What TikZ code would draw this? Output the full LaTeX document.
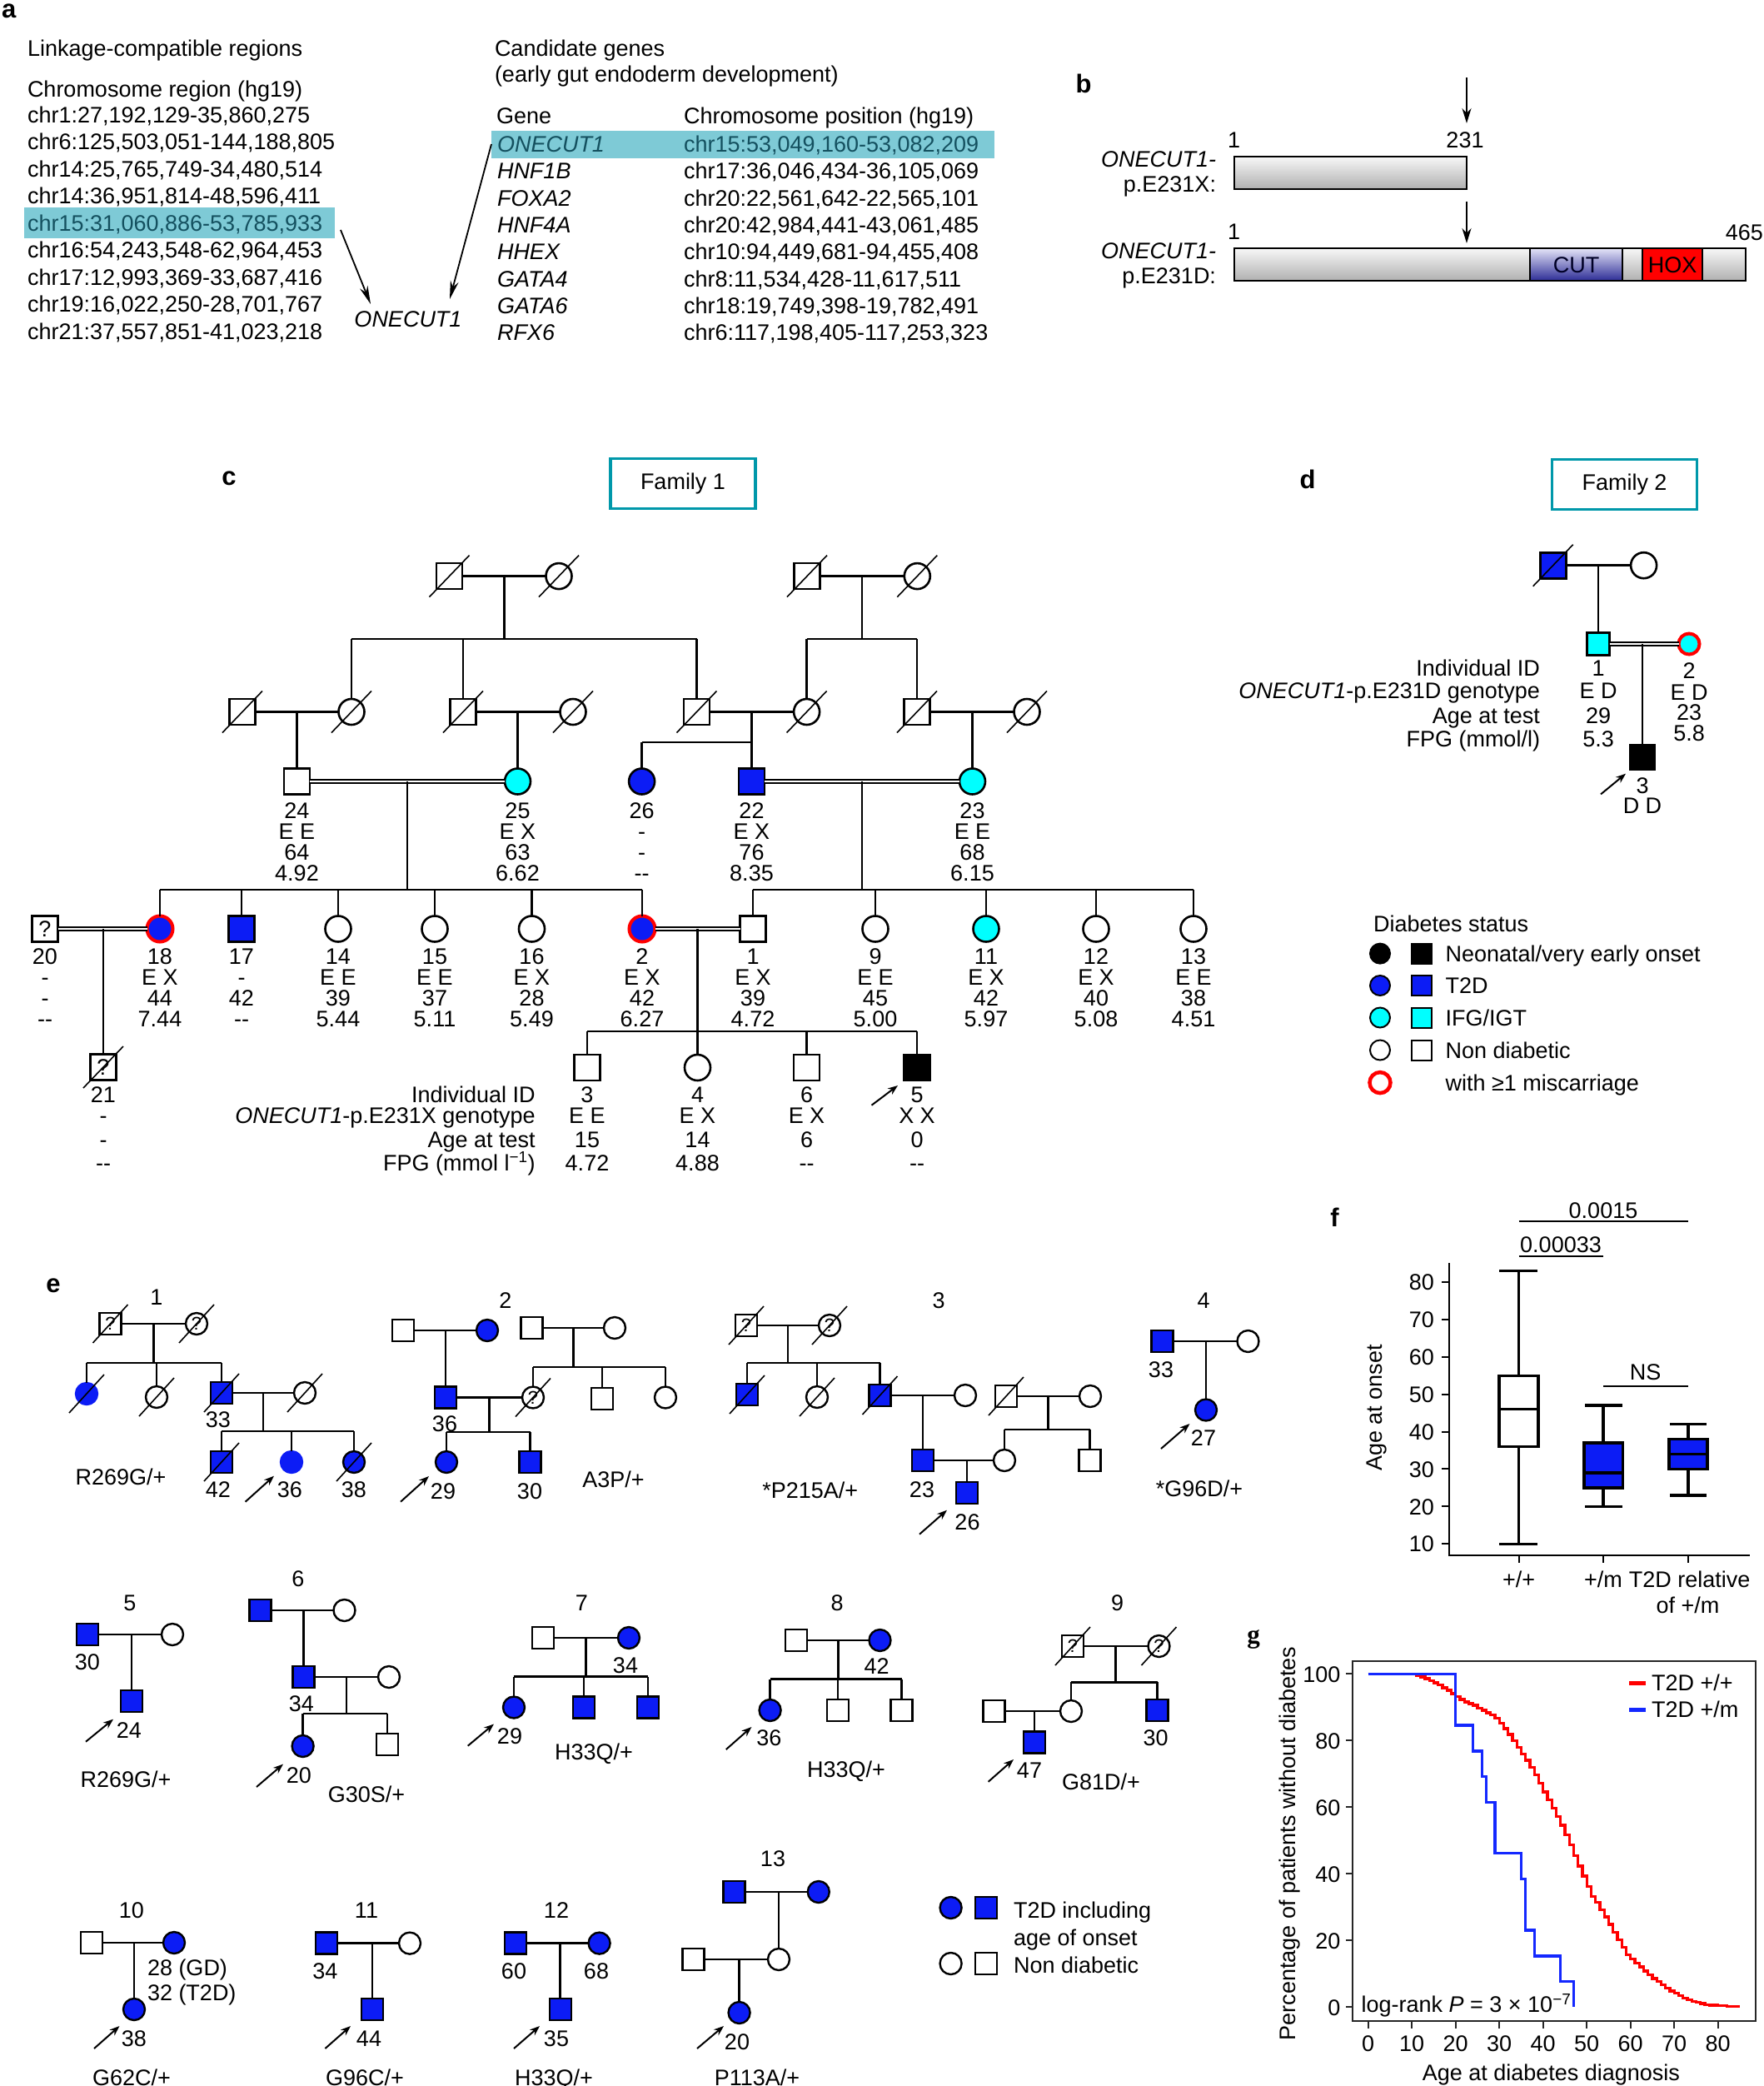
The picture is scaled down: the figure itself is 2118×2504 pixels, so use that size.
\documentclass[tikz,border=0pt]{standalone}
\usepackage{fontspec}
\setmainfont{Liberation Sans}
\newfontfamily\serifbf{Liberation Serif}
\usetikzlibrary{arrows.meta,calc}
\definecolor{pblue}{RGB}{12,28,245}
\definecolor{pcyan}{RGB}{0,255,255}
\definecolor{pred}{RGB}{255,0,0}
\definecolor{hl}{RGB}{126,202,214}
\definecolor{hltext}{RGB}{20,80,95}
\definecolor{famc}{RGB}{0,152,170}
\definecolor{gblue}{RGB}{20,40,255}
\definecolor{cutt}{RGB}{228,228,248}
\definecolor{cutb}{RGB}{45,45,150}
\newcommand\fs{\fontsize{27}{32}\selectfont}
\newcommand\fqe{\fontsize{22}{24}\selectfont}
\newcommand\fbl{\fontsize{31}{36}\selectfont\bfseries}
\newcommand\pdec[1]{\draw[slash] (#1) ++(-24,25) -- ++(48,-50);}
\newcommand\pdecs[1]{\draw[slash] (#1) ++(-21,23) -- ++(42,-46);}
\newcommand\pdrop[2]{\draw[pl] (#1.north) -- (#1 |- #2);}
\newcommand\pinfo[8]{%
  \node[anchor=base] (#1a) at (#2,#3) {#5};
  \node[anchor=base] (#1b) at (#2,#3+#4) {#6};
  \node[anchor=base] (#1c) at (#2,#3+2*#4) {#7};
  \node[anchor=base] (#1d) at (#2,#3+3*#4) {#8};}
\newcommand\pinfoV[6]{%
  \node[anchor=base] (#1a) at (#2,1323) {#3};
  \node[anchor=base] (#1b) at (#2,1348) {#4};
  \node[anchor=base] (#1c) at (#2,1377) {#5};
  \node[anchor=base] (#1d) at (#2,1405) {#6};}
\newcommand\ddash{-{}-}
\begin{document}
\begin{tikzpicture}[x=1pt,y=-1pt,
  every node/.style={inner sep=0pt,outer sep=0pt,font=\fs},
  pl/.style={line width=2.6pt},
  sq/.style={draw,rectangle,line width=2.6pt,minimum size=31pt},
  ci/.style={draw,circle,line width=2.6pt,minimum size=31pt},
  esq/.style={draw,rectangle,line width=2.4pt,minimum size=26pt},
  eci/.style={draw,circle,line width=2.4pt,minimum size=26pt},
  slash/.style={line width=1.6pt},
  ring/.style={draw=pred,line width=4pt},
  parr/.style={line width=2pt,-{Stealth[length=12pt,width=9pt]}},
  aarr/.style={line width=1.8pt,-{Stealth[length=22pt,width=10pt]}},
  barr/.style={line width=1.8pt,-{Stealth[length=18pt,width=11pt]}},
  dbl/.style={double,double distance=2.2pt,line width=2.2pt},
  fam/.style={draw=famc,line width=3.5pt,minimum width=174pt,minimum height=60pt},
  barg/.style={top color=gray!6,bottom color=gray!62},
  bx/.style={line width=3.4pt},
  fax/.style={line width=2pt},
  gax/.style={line width=2pt,black!85}]
\useasboundingbox (0,0) rectangle (2118,2504);
\fill[white] (0,0) rectangle (2118,2504);

%%%%%%%%%%%%%%%% panel a
\node[font=\fbl,anchor=base west] (la) at (2,21) {a};
\fill[hl] (29,249) rectangle (402,286);
\fill[hl] (590,157) rectangle (1194,190);
\node[anchor=base west] (ah1) at (33,67) {Linkage-compatible regions};
\node[anchor=base west] (ah2) at (33,116) {Chromosome region (hg19)};
\node[anchor=base west] (ar1) at (33,147) {chr1:27,192,129-35,860,275};
\node[anchor=base west] (ar2) at (33,179.5) {chr6:125,503,051-144,188,805};
\node[anchor=base west] (ar3) at (33,212) {chr14:25,765,749-34,480,514};
\node[anchor=base west] (ar4) at (33,244.5) {chr14:36,951,814-48,596,411};
\node[anchor=base west,text=hltext] (ar5) at (33,277) {chr15:31,060,886-53,785,933};
\node[anchor=base west] (ar6) at (33,309.5) {chr16:54,243,548-62,964,453};
\node[anchor=base west] (ar7) at (33,342) {chr17:12,993,369-33,687,416};
\node[anchor=base west] (ar8) at (33,374.5) {chr19:16,022,250-28,701,767};
\node[anchor=base west] (ar9) at (33,407) {chr21:37,557,851-41,023,218};
\node[anchor=base west] (ac1) at (594,67) {Candidate genes};
\node[anchor=base west] (ac2) at (594,98) {(early gut endoderm development)};
\node[anchor=base west] (ag0) at (596,148) {Gene};
\node[anchor=base west] (ap0) at (821,148) {Chromosome position (hg19)};
\node[anchor=base west,font=\fs\itshape,text=hltext] (ag1) at (597,182.5) {ONECUT1};
\node[anchor=base west,font=\fs\itshape] (ag2) at (597,214.8) {HNF1B};
\node[anchor=base west,font=\fs\itshape] (ag3) at (597,247) {FOXA2};
\node[anchor=base west,font=\fs\itshape] (ag4) at (597,279.4) {HNF4A};
\node[anchor=base west,font=\fs\itshape] (ag5) at (597,311.7) {HHEX};
\node[anchor=base west,font=\fs\itshape] (ag6) at (597,344) {GATA4};
\node[anchor=base west,font=\fs\itshape] (ag7) at (597,376.3) {GATA6};
\node[anchor=base west,font=\fs\itshape] (ag8) at (597,408.6) {RFX6};
\node[anchor=base west,text=hltext] (ap1) at (821,182.5) {chr15:53,049,160-53,082,209};
\node[anchor=base west] (ap2) at (821,214.8) {chr17:36,046,434-36,105,069};
\node[anchor=base west] (ap3) at (821,247) {chr20:22,561,642-22,565,101};
\node[anchor=base west] (ap4) at (821,279.4) {chr20:42,984,441-43,061,485};
\node[anchor=base west] (ap5) at (821,311.7) {chr10:94,449,681-94,455,408};
\node[anchor=base west] (ap6) at (821,344) {chr8:11,534,428-11,617,511};
\node[anchor=base west] (ap7) at (821,376.3) {chr18:19,749,398-19,782,491};
\node[anchor=base west] (ap8) at (821,408.6) {chr6:117,198,405-117,253,323};
\coordinate (aa1) at (409,276); \coordinate (aa2) at (445,365);
\coordinate (aa3) at (590,173); \coordinate (aa4) at (540,359);
\draw[aarr] (aa1) -- (aa2);
\draw[aarr] (aa3) -- (aa4);
\node[anchor=base,font=\fs\itshape] (aon) at (490,392.7) {ONECUT1};

%%%%%%%%%%%%%%%% panel b
\node[font=\fbl] (lb) at (1301,100) {b};
\coordinate (bA1) at (1761,93); \coordinate (bA2) at (1761,148);
\draw[barr] (bA1) -- (bA2);
\coordinate (bA3) at (1761,242); \coordinate (bA4) at (1761,292);
\draw[barr] (bA3) -- (bA4);
\node[anchor=base] (bn1) at (1481.6,177) {1};
\node[anchor=base] (bn231) at (1759,177) {231};
\node[anchor=base east,font=\fs\itshape] (bl1) at (1460,200) {ONECUT1-};
\node[anchor=base east] (bl2) at (1460,230) {p.E231X:};
\shade[barg] (1482,188) rectangle (1761,227);
\draw[line width=2.2pt] (1482,188) rectangle (1761,227);
\node[anchor=base] (bn1b) at (1481.6,287) {1};
\node[anchor=base east] (bn465) at (2117,288) {465};
\node[anchor=base east,font=\fs\itshape] (bl3) at (1460,310) {ONECUT1-};
\node[anchor=base east] (bl4) at (1460,340) {p.E231D:};
\shade[barg] (1482,298) rectangle (1837,337);
\shade[top color=cutt,bottom color=cutb] (1837,298) rectangle (1948,337);
\shade[barg] (1948,298) rectangle (1972,337);
\fill[pred] (1972,298) rectangle (2044,337);
\shade[barg] (2044,298) rectangle (2096,337);
\draw[line width=2.2pt] (1482,298) rectangle (2096,337);
\draw[line width=2.2pt] (1837,298) -- (1837,337) (1948,298) -- (1948,337)
  (1972,298) -- (1972,337) (2044,298) -- (2044,337);
\node[anchor=base,text=black!85!blue] (bcut) at (1892.5,327) {CUT};
\node[anchor=base] (bhox) at (2008,327) {HOX};

%%%%%%%%%%%%%%%% panel c
\node[font=\fbl] (lc) at (275,574) {c};
\node[fam] (fam1) at (820,580.7) {Family 1};
% generation I
\node[sq] (cA1) at (539.5,691.6) {};
\node[ci] (cA2) at (671,691.6) {};
\node[sq] (cB1) at (969,691.6) {};
\node[ci] (cB2) at (1101.3,691.6) {};
\pdec{cA1}\pdec{cA2}\pdec{cB1}\pdec{cB2}
\draw[pl] (cA1) -- (cA2);
\draw[pl] (cB1) -- (cB2);
\coordinate (cS1) at (0,767);
\coordinate (cmA) at ($(cA1)!.5!(cA2)$);
\coordinate (cmB) at ($(cB1)!.5!(cB2)$);
\draw[pl] (cmA) -- (cmA |- cS1);
\draw[pl] (cmB) -- (cmB |- cS1);
% generation II
\node[sq] (cC1) at (291,854.5) {};
\node[ci] (cC2) at (422,854.5) {};
\node[sq] (cC3) at (556,854.5) {};
\node[ci] (cC4) at (688,854.5) {};
\node[sq] (cC5) at (836.5,854.5) {};
\node[ci] (cC6) at (968.6,854.5) {};
\node[sq] (cC7) at (1101,854.5) {};
\node[ci] (cC8) at (1233,854.5) {};
\pdec{cC1}\pdec{cC2}\pdec{cC3}\pdec{cC4}\pdec{cC5}\pdec{cC6}\pdec{cC7}\pdec{cC8}
\draw[pl] (cC2 |- cS1) -- (cC5 |- cS1);
\draw[pl] (cC6 |- cS1) -- (cC7 |- cS1);
\pdrop{cC2}{cS1}\pdrop{cC3}{cS1}\pdrop{cC5}{cS1}\pdrop{cC6}{cS1}\pdrop{cC7}{cS1}
\draw[pl] (cC1) -- (cC2);
\draw[pl] (cC3) -- (cC4);
\draw[pl] (cC5) -- (cC6);
\draw[pl] (cC7) -- (cC8);
% generation III
\node[sq] (cD24) at (356.5,938) {};
\node[ci,fill=pcyan] (cD25) at (621.5,938) {};
\node[ci,fill=pblue] (cD26) at (770.6,938) {};
\node[sq,fill=pblue] (cD22) at (902.5,938) {};
\node[ci,fill=pcyan] (cD23) at (1167.5,938) {};
\draw[pl] (cD24.north) -- (cD24 |- cC1);
\draw[pl] (cD25.north) -- (cD25 |- cC3);
\draw[pl] (cD23.north) -- (cD23 |- cC7);
\coordinate (cS2) at (0,891);
\draw[pl] (cD22.north) -- (cD22 |- cC5);
\draw[pl] (cD26 |- cS2) -- (cD22 |- cS2);
\pdrop{cD26}{cS2}
\draw[dbl] (cD24) -- (cD25);
\draw[dbl] (cD22) -- (cD23);
\pinfo{tD24}{356.5}{982}{25}{24}{E E}{64}{4.92}
\pinfo{tD25}{621.5}{982}{25}{25}{E X}{63}{6.62}
\pinfo{tD26}{770.6}{982}{25}{26}{-}{-}{\ddash}
\pinfo{tD22}{902.5}{982}{25}{22}{E X}{76}{8.35}
\pinfo{tD23}{1167.5}{982}{25}{23}{E E}{68}{6.15}
% generation IV
\coordinate (cS3) at (0,1068);
\coordinate (cmD1) at ($(cD24)!.5!(cD25)$);
\coordinate (cmD2) at ($(cD22)!.5!(cD23)$);
\draw[pl] (cmD1) -- (cmD1 |- cS3);
\draw[pl] (cmD2) -- (cmD2 |- cS3);
\node[sq] (cE20) at (54,1115) {?};
\node[ci,fill=pblue,ring] (cE18) at (192,1115) {};
\node[sq,fill=pblue] (cE17) at (290,1115) {};
\node[ci] (cE14) at (406,1115) {};
\node[ci] (cE15) at (522,1115) {};
\node[ci] (cE16) at (638.5,1115) {};
\node[ci,fill=pblue,ring] (cE2) at (771,1115) {};
\node[sq] (cE1) at (904,1115) {};
\node[ci] (cE9) at (1051,1115) {};
\node[ci,fill=pcyan] (cE11) at (1184,1115) {};
\node[ci] (cE12) at (1316,1115) {};
\node[ci] (cE13) at (1433,1115) {};
\draw[pl] (cE18 |- cS3) -- (cE2 |- cS3);
\draw[pl] (cE1 |- cS3) -- (cE13 |- cS3);
\pdrop{cE18}{cS3}\pdrop{cE17}{cS3}\pdrop{cE14}{cS3}\pdrop{cE15}{cS3}\pdrop{cE16}{cS3}\pdrop{cE2}{cS3}
\pdrop{cE1}{cS3}\pdrop{cE9}{cS3}\pdrop{cE11}{cS3}\pdrop{cE12}{cS3}\pdrop{cE13}{cS3}
\draw[dbl] (cE20) -- (cE18);
\draw[dbl] (cE2) -- (cE1);
\pinfo{tE20}{54}{1157}{25}{20}{-}{-}{\ddash}
\pinfo{tE18}{192}{1157}{25}{18}{E X}{44}{7.44}
\pinfo{tE17}{290}{1157}{25}{17}{-}{42}{\ddash}
\pinfo{tE14}{406}{1157}{25}{14}{E E}{39}{5.44}
\pinfo{tE15}{522}{1157}{25}{15}{E E}{37}{5.11}
\pinfo{tE16}{638.5}{1157}{25}{16}{E X}{28}{5.49}
\pinfo{tE2}{771}{1157}{25}{2}{E X}{42}{6.27}
\pinfo{tE1}{904}{1157}{25}{1}{E X}{39}{4.72}
\pinfo{tE9}{1051}{1157}{25}{9}{E E}{45}{5.00}
\pinfo{tE11}{1184}{1157}{25}{11}{E X}{42}{5.97}
\pinfo{tE12}{1316}{1157}{25}{12}{E X}{40}{5.08}
\pinfo{tE13}{1433}{1157}{25}{13}{E E}{38}{4.51}
% generation V
\node[sq] (cF21) at (124,1281) {?};
\pdec{cF21}
\draw[pl] (cF21.north) -- (cF21 |- cE20);
\coordinate (cS4) at (0,1238);
\coordinate (cmE) at ($(cE2)!.5!(cE1)$);
\draw[pl] (cmE) -- (cmE |- cS4);
\node[sq] (cF3) at (705,1281.5) {};
\node[ci] (cF4) at (837.5,1281.5) {};
\node[sq] (cF6) at (968.5,1281.5) {};
\node[sq,fill=black] (cF5) at (1101,1281.5) {};
\draw[pl] (cF3 |- cS4) -- (cF5 |- cS4);
\pdrop{cF3}{cS4}\pdrop{cF4}{cS4}\pdrop{cF6}{cS4}\pdrop{cF5}{cS4}
\pinfoV{tF21}{124}{21}{-}{-}{\ddash}
\pinfoV{tF3}{705}{3}{E E}{15}{4.72}
\pinfoV{tF4}{837.5}{4}{E X}{14}{4.88}
\pinfoV{tF6}{968.5}{6}{E X}{6}{\ddash}
\pinfoV{tF5}{1101}{5}{X X}{0}{\ddash}
\node[anchor=base east] (cr1) at (642.6,1323) {Individual ID};
\node[anchor=base east] (cr2) at (642.6,1348) {\textit{ONECUT1}-p.E231X genotype};
\node[anchor=base east] (cr3) at (642.6,1377) {Age at test};
\node[anchor=base east] (cr4) at (642.6,1405) {FPG (mmol l\textsuperscript{\symbol{"2212}1})};
\coordinate (cP5s) at (1046.5,1326.7); \coordinate (cP5e) at (1078,1303);
\draw[parr] (cP5s) -- (cP5e);

%%%%%%%%%%%%%%%% panel d
\node[font=\fbl] (ld) at (1570,575) {d};
\node[fam] (fam2) at (1950.5,581.5) {Family 2};
\node[sq,fill=pblue] (dA1) at (1864.7,678.7) {};
\pdec{dA1}
\node[ci] (dA2) at (1973.6,678.7) {};
\draw[pl] (dA1) -- (dA2);
\node[sq,fill=pcyan,minimum size=27pt] (dB1) at (1919,773) {};
\node[ci,fill=pcyan,ring,minimum size=25pt] (dB2) at (2028,773) {};
\draw[pl] (dB1.north) -- (dB1 |- dA1);
\draw[dbl] (dB1) -- (dB2);
\node[sq,fill=black,minimum size=29pt] (dC3) at (1972,909) {};
\draw[pl] (dC3.north) -- (dC3 |- dB1);
\node[anchor=base east] (dr1) at (1849,811) {Individual ID};
\node[anchor=base east] (dr2) at (1849,838) {\textit{ONECUT1}-p.E231D genotype};
\node[anchor=base east] (dr3) at (1849,868) {Age at test};
\node[anchor=base east] (dr4) at (1849,896) {FPG (mmol/l)};
\node[anchor=base] (d1a) at (1919,811) {1};
\node[anchor=base] (d1b) at (1919,838) {E D};
\node[anchor=base] (d1c) at (1919,868) {29};
\node[anchor=base] (d1d) at (1919,896) {5.3};
\node[anchor=base] (d2a) at (2028,814) {2};
\node[anchor=base] (d2b) at (2028,840) {E D};
\node[anchor=base] (d2c) at (2028,864) {23};
\node[anchor=base] (d2d) at (2028,889) {5.8};
\node[anchor=base] (d3a) at (1972,952) {3};
\node[anchor=base] (d3b) at (1972,976) {D D};
\coordinate (dPs) at (1922,953.4); \coordinate (dPe) at (1952,928.7);
\draw[parr] (dPs) -- (dPe);
% legend
\node[anchor=base west] (dlt) at (1649,1118) {Diabetes status};
\node[draw,circle,fill=black,line width=2pt,minimum size=24pt] (dl1c) at (1657,1144.6) {};
\node[draw,rectangle,fill=black,line width=2pt,minimum size=24pt] (dl1s) at (1706.5,1144.6) {};
\node[anchor=base west] (dl1t) at (1735.5,1154.3) {Neonatal/very early onset};
\node[draw,circle,fill=pblue,line width=2pt,minimum size=24pt] (dl2c) at (1657,1183) {};
\node[draw,rectangle,fill=pblue,line width=2pt,minimum size=24pt] (dl2s) at (1706.5,1183) {};
\node[anchor=base west] (dl2t) at (1735.5,1192.7) {T2D};
\node[draw,circle,fill=pcyan,line width=2pt,minimum size=24pt] (dl3c) at (1657,1221.5) {};
\node[draw,rectangle,fill=pcyan,line width=2pt,minimum size=24pt] (dl3s) at (1706.5,1221.5) {};
\node[anchor=base west] (dl3t) at (1735.5,1231.2) {IFG/IGT};
\node[draw,circle,line width=2pt,minimum size=24pt] (dl4c) at (1657,1260.5) {};
\node[draw,rectangle,line width=2pt,minimum size=24pt] (dl4s) at (1706.5,1260.5) {};
\node[anchor=base west] (dl4t) at (1735.5,1270.2) {Non diabetic};
\node[draw=pred,circle,line width=4.5pt,minimum size=25pt] (dl5c) at (1657,1299.6) {};
\node[anchor=base west] (dl5t) at (1735.5,1309.3) {with ≥1 miscarriage};

%%%%%%%%%%%%%%%% panel e
\node[font=\fbl] (le) at (64,1543) {e};
% pedigree 1
\node[anchor=base] (e1t) at (188,1566) {1};
\node[esq,font=\fqe] (e1a) at (132.5,1589) {?}; \pdecs{e1a}
\node[eci,font=\fqe] (e1b) at (236,1589) {?}; \pdecs{e1b}
\draw[pl] (e1a) -- (e1b);
\coordinate (e1s1) at (0,1636);
\coordinate (e1m1) at ($(e1a)!.5!(e1b)$);
\draw[pl] (e1m1) -- (e1m1 |- e1s1);
\node[eci,fill=pblue,draw=pblue] (e1c) at (104,1673) {}; \pdecs{e1c}
\node[eci] (e1d) at (188,1677) {}; \pdecs{e1d}
\node[esq,fill=pblue] (e1e) at (266,1672) {}; \pdecs{e1e}
\draw[pl] (e1c |- e1s1) -- (e1e |- e1s1);
\pdrop{e1c}{e1s1}\pdrop{e1d}{e1s1}\pdrop{e1e}{e1s1}
\node[eci] (e1f) at (366,1672) {}; \pdecs{e1f}
\draw[pl] (e1e) -- (e1f);
\coordinate (e1s2) at (0,1718);
\coordinate (e1m2) at ($(e1e)!.5!(e1f)$);
\draw[pl] (e1m2) -- (e1m2 |- e1s2);
\node[esq,fill=pblue] (e1g) at (266,1755) {}; \pdecs{e1g}
\node[eci,fill=pblue,draw=pblue] (e1h) at (350,1755) {};
\node[eci,fill=pblue] (e1i) at (425,1755) {}; \pdecs{e1i}
\draw[pl] (e1g |- e1s2) -- (e1i |- e1s2);
\pdrop{e1g}{e1s2}\pdrop{e1h}{e1s2}\pdrop{e1i}{e1s2}
\node[anchor=base] (e1l1) at (262,1713) {33};
\node[anchor=base] (e1l2) at (262,1797) {42};
\node[anchor=base] (e1l3) at (348,1797) {36};
\node[anchor=base] (e1l4) at (425,1797) {38};
\node[anchor=base] (e1v) at (145,1782) {R269G/+};
\coordinate (e1p1) at (294.6,1802.7); \coordinate (e1p2) at (329,1771.7);
\draw[parr] (e1p1) -- (e1p2);
% pedigree 2
\node[anchor=base] (e2t) at (607,1570) {2};
\node[esq] (e2a) at (484,1597) {};
\node[eci,fill=pblue] (e2b) at (585,1597) {};
\draw[pl] (e2a) -- (e2b);
\node[esq] (e2c) at (638.5,1594) {};
\node[eci] (e2d) at (738,1594) {};
\draw[pl] (e2c) -- (e2d);
\coordinate (e2s1) at (0,1641);
\coordinate (e2m1) at ($(e2c)!.5!(e2d)$);
\draw[pl] (e2m1) -- (e2m1 |- e2s1);
\node[eci,font=\fqe] (e2f) at (640,1677.5) {?}; \pdecs{e2f}
\node[esq] (e2g) at (723,1679) {};
\node[eci] (e2h) at (799,1677.5) {};
\draw[pl] (e2f |- e2s1) -- (e2h |- e2s1);
\pdrop{e2f}{e2s1}\pdrop{e2g}{e2s1}\pdrop{e2h}{e2s1}
\node[esq,fill=pblue] (e2e) at (535,1677.5) {};
\draw[pl] (e2e.north) -- (e2e |- e2a);
\draw[pl] (e2e) -- (e2f);
\coordinate (e2s2) at (0,1719);
\coordinate (e2m2) at ($(e2e)!.5!(e2f)$);
\draw[pl] (e2m2) -- (e2m2 |- e2s2);
\node[eci,fill=pblue] (e2i) at (536,1755) {};
\node[esq,fill=pblue] (e2j) at (636.5,1755) {};
\draw[pl] (e2i |- e2s2) -- (e2j |- e2s2);
\pdrop{e2i}{e2s2}\pdrop{e2j}{e2s2}
\node[anchor=base] (e2l1) at (534,1718) {36};
\node[anchor=base] (e2l2) at (532,1799) {29};
\node[anchor=base] (e2l3) at (636,1799) {30};
\node[anchor=base] (e2v) at (736.5,1785) {A3P/+};
\coordinate (e2p1) at (481,1802.7); \coordinate (e2p2) at (515,1772);
\draw[parr] (e2p1) -- (e2p2);
% pedigree 3
\node[anchor=base] (e3t) at (1127,1570) {3};
\node[esq,font=\fqe] (e3a) at (896,1591) {?}; \pdecs{e3a}
\node[eci,font=\fqe] (e3b) at (996,1591) {?}; \pdecs{e3b}
\draw[pl] (e3a) -- (e3b);
\coordinate (e3s1) at (0,1636);
\coordinate (e3m1) at ($(e3a)!.5!(e3b)$);
\draw[pl] (e3m1) -- (e3m1 |- e3s1);
\node[esq,fill=pblue] (e3c) at (897,1674) {}; \pdecs{e3c}
\node[eci] (e3d) at (981,1677) {}; \pdecs{e3d}
\node[esq,fill=pblue] (e3e) at (1056.5,1675) {}; \pdecs{e3e}
\draw[pl] (e3c |- e3s1) -- (e3e |- e3s1);
\pdrop{e3c}{e3s1}\pdrop{e3d}{e3s1}\pdrop{e3e}{e3s1}
\node[eci] (e3f) at (1159,1675) {};
\draw[pl] (e3e) -- (e3f);
\node[esq] (e3g) at (1208,1676) {}; \pdecs{e3g}
\node[eci] (e3h) at (1309,1676) {};
\draw[pl] (e3g) -- (e3h);
\coordinate (e3s2) at (0,1716);
\coordinate (e3m2) at ($(e3g)!.5!(e3h)$);
\draw[pl] (e3m2) -- (e3m2 |- e3s2);
\node[eci] (e3i) at (1206,1753) {};
\node[esq] (e3j) at (1308.5,1753) {};
\draw[pl] (e3i |- e3s2) -- (e3j |- e3s2);
\pdrop{e3i}{e3s2}\pdrop{e3j}{e3s2}
\node[esq,fill=pblue] (e3k) at (1108,1753) {};
\draw[pl] (e3k.north) -- (e3k |- e3e);
\draw[pl] (e3k) -- (e3i);
\node[esq,fill=pblue] (e3l) at (1161,1792) {};
\draw[pl] (e3l.north) -- (e3l |- e3k);
\node[anchor=base] (e3l1) at (1107,1797) {23};
\node[anchor=base] (e3l2) at (1161.5,1836) {26};
\node[anchor=base] (e3v) at (972.7,1798) {*P215A/+};
\coordinate (e3p1) at (1104,1841.7); \coordinate (e3p2) at (1137,1812.7);
\draw[parr] (e3p1) -- (e3p2);
% pedigree 4
\node[anchor=base] (e4t) at (1445,1570) {4};
\node[esq,fill=pblue] (e4a) at (1395.5,1610) {};
\node[eci] (e4b) at (1498.5,1610) {};
\draw[pl] (e4a) -- (e4b);
\node[eci,fill=pblue] (e4c) at (1448,1692.5) {};
\draw[pl] (e4c.north) -- (e4c |- e4a);
\node[anchor=base] (e4l1) at (1394,1653) {33};
\node[anchor=base] (e4l2) at (1445,1735) {27};
\node[anchor=base] (e4v) at (1440,1796) {*G96D/+};
\coordinate (e4p1) at (1394,1739); \coordinate (e4p2) at (1428.5,1709);
\draw[parr] (e4p1) -- (e4p2);
% pedigree 5
\node[anchor=base] (e5t) at (156,1933) {5};
\node[esq,fill=pblue] (e5a) at (105,1962) {};
\node[eci] (e5b) at (207,1962) {};
\draw[pl] (e5a) -- (e5b);
\node[esq,fill=pblue] (e5c) at (158,2042) {};
\draw[pl] (e5c.north) -- (e5c |- e5a);
\node[anchor=base] (e5l1) at (105,2004) {30};
\node[anchor=base] (e5l2) at (155,2086) {24};
\node[anchor=base] (e5v) at (151,2145) {R269G/+};
\coordinate (e5p1) at (103,2090.7); \coordinate (e5p2) at (136,2063.7);
\draw[parr] (e5p1) -- (e5p2);
% pedigree 6
\node[anchor=base] (e6t) at (358,1904) {6};
\node[esq,fill=pblue] (e6a) at (312.5,1933) {};
\node[eci] (e6b) at (413.5,1933) {};
\draw[pl] (e6a) -- (e6b);
\node[esq,fill=pblue] (e6c) at (364.6,2013) {};
\draw[pl] (e6c.north) -- (e6c |- e6a);
\node[eci] (e6d) at (467,2013) {};
\draw[pl] (e6c) -- (e6d);
\coordinate (e6s1) at (0,2057);
\coordinate (e6m1) at ($(e6c)!.5!(e6d)$);
\draw[pl] (e6m1) -- (e6m1 |- e6s1);
\node[eci,fill=pblue] (e6e) at (363.6,2096) {};
\node[esq] (e6f) at (465,2094) {};
\draw[pl] (e6e |- e6s1) -- (e6f |- e6s1);
\pdrop{e6e}{e6s1}\pdrop{e6f}{e6s1}
\node[anchor=base] (e6l1) at (362,2054) {34};
\node[anchor=base] (e6l2) at (359,2140) {20};
\node[anchor=base] (e6v) at (440,2163) {G30S/+};
\coordinate (e6p1) at (308,2145); \coordinate (e6p2) at (340,2117.6);
\draw[parr] (e6p1) -- (e6p2);
% pedigree 7
\node[anchor=base] (e7t) at (698.5,1933) {7};
\node[esq] (e7a) at (651.7,1966) {};
\node[eci,fill=pblue] (e7b) at (755,1966) {};
\draw[pl] (e7a) -- (e7b);
\coordinate (e7s1) at (0,2012.5);
\coordinate (e7m1) at ($(e7a)!.5!(e7b)$);
\draw[pl] (e7m1) -- (e7m1 |- e7s1);
\node[eci,fill=pblue] (e7c) at (617,2049.5) {};
\node[esq,fill=pblue] (e7d) at (701,2049.5) {};
\node[esq,fill=pblue] (e7e) at (778,2049.5) {};
\draw[pl] (e7c |- e7s1) -- (e7e |- e7s1);
\pdrop{e7c}{e7s1}\pdrop{e7d}{e7s1}\pdrop{e7e}{e7s1}
\node[anchor=base] (e7l1) at (751,2008) {34};
\node[anchor=base] (e7l2) at (612,2093) {29};
\node[anchor=base] (e7v) at (713,2112) {H33Q/+};
\coordinate (e7p1) at (561.7,2095.7); \coordinate (e7p2) at (593,2069.5);
\draw[parr] (e7p1) -- (e7p2);
% pedigree 8
\node[anchor=base] (e8t) at (1005,1933) {8};
\node[esq] (e8a) at (956,1969) {};
\node[eci,fill=pblue] (e8b) at (1056.5,1969) {};
\draw[pl] (e8a) -- (e8b);
\coordinate (e8s1) at (0,2015.6);
\coordinate (e8m1) at ($(e8a)!.5!(e8b)$);
\draw[pl] (e8m1) -- (e8m1 |- e8s1);
\node[eci,fill=pblue] (e8c) at (924.6,2053) {};
\node[esq] (e8d) at (1006,2053) {};
\node[esq] (e8e) at (1082.5,2053) {};
\draw[pl] (e8c |- e8s1) -- (e8e |- e8s1);
\pdrop{e8c}{e8s1}\pdrop{e8d}{e8s1}\pdrop{e8e}{e8s1}
\node[anchor=base] (e8l1) at (1052.6,2009) {42};
\node[anchor=base] (e8l2) at (923.4,2095) {36};
\node[anchor=base] (e8v) at (1016,2133) {H33Q/+};
\coordinate (e8p1) at (871.8,2100); \coordinate (e8p2) at (902.4,2073);
\draw[parr] (e8p1) -- (e8p2);
% pedigree 9
\node[anchor=base] (e9t) at (1341.6,1933) {9};
\node[esq,font=\fqe] (e9a) at (1288,1976) {?}; \pdecs{e9a}
\node[eci,font=\fqe] (e9b) at (1391.5,1976) {?}; \pdecs{e9b}
\draw[pl] (e9a) -- (e9b);
\coordinate (e9s1) at (0,2019.4);
\coordinate (e9m1) at ($(e9a)!.5!(e9b)$);
\draw[pl] (e9m1) -- (e9m1 |- e9s1);
\node[eci] (e9c) at (1286,2054) {};
\node[esq,fill=pblue] (e9d) at (1389.5,2053) {};
\draw[pl] (e9c |- e9s1) -- (e9d |- e9s1);
\pdrop{e9c}{e9s1}\pdrop{e9d}{e9s1}
\node[esq] (e9e) at (1193.5,2054) {};
\draw[pl] (e9e) -- (e9c);
\node[esq,fill=pblue] (e9f) at (1242,2091.6) {};
\draw[pl] (e9f.north) -- (e9f |- e9c);
\node[anchor=base] (e9l1) at (1387.6,2095) {30};
\node[anchor=base] (e9l2) at (1236,2134) {47};
\node[anchor=base] (e9v) at (1322,2148.5) {G81D/+};
\coordinate (e9p1) at (1186.6,2138.8); \coordinate (e9p2) at (1217,2112);
\draw[parr] (e9p1) -- (e9p2);
% pedigree 10
\node[anchor=base] (e10t) at (158,2302) {10};
\node[esq] (e10a) at (110,2332) {};
\node[eci,fill=pblue] (e10b) at (209,2332) {};
\draw[pl] (e10a) -- (e10b);
\node[eci,fill=pblue] (e10c) at (161,2412) {};
\draw[pl] (e10c.north) -- (e10c |- e10a);
\node[anchor=base west] (e10l1) at (177,2371) {28 (GD)};
\node[anchor=base west] (e10l2) at (177,2401) {32 (T2D)};
\node[anchor=base] (e10l3) at (160.8,2456) {38};
\node[anchor=base] (e10v) at (158,2503) {G62C/+};
\coordinate (e10p1) at (113,2459); \coordinate (e10p2) at (143.5,2432);
\draw[parr] (e10p1) -- (e10p2);
% pedigree 11
\node[anchor=base] (e11t) at (440,2302) {11};
\node[esq,fill=pblue] (e11a) at (392,2332.6) {};
\node[eci] (e11b) at (492,2332.6) {};
\draw[pl] (e11a) -- (e11b);
\node[esq,fill=pblue] (e11c) at (447,2412) {};
\draw[pl] (e11c.north) -- (e11c |- e11a);
\node[anchor=base] (e11l1) at (390.4,2375) {34};
\node[anchor=base] (e11l2) at (443,2456) {44};
\node[anchor=base] (e11v) at (438,2503) {G96C/+};
\coordinate (e11p1) at (390.4,2459); \coordinate (e11p2) at (421,2432);
\draw[parr] (e11p1) -- (e11p2);
% pedigree 12
\node[anchor=base] (e12t) at (668,2302) {12};
\node[esq,fill=pblue] (e12a) at (619,2332.6) {};
\node[eci,fill=pblue] (e12b) at (719.6,2332.6) {};
\draw[pl] (e12a) -- (e12b);
\node[esq,fill=pblue] (e12c) at (672.7,2412) {};
\draw[pl] (e12c.north) -- (e12c |- e12a);
\node[anchor=base] (e12l1) at (617,2375) {60};
\node[anchor=base] (e12l2) at (716,2375) {68};
\node[anchor=base] (e12l3) at (668,2456) {35};
\node[anchor=base] (e12v) at (665,2503) {H33Q/+};
\coordinate (e12p1) at (617,2459); \coordinate (e12p2) at (648,2432);
\draw[parr] (e12p1) -- (e12p2);
% pedigree 13
\node[anchor=base] (e13t) at (928,2240) {13};
\node[esq,fill=pblue] (e13a) at (881.3,2271) {};
\node[eci,fill=pblue] (e13b) at (982.8,2271) {};
\draw[pl] (e13a) -- (e13b);
\node[eci] (e13c) at (935,2352) {};
\draw[pl] (e13c.north) -- (e13c |- e13a);
\node[esq] (e13d) at (832.5,2352) {};
\draw[pl] (e13d) -- (e13c);
\node[eci,fill=pblue] (e13e) at (887.6,2416) {};
\draw[pl] (e13e.north) -- (e13e |- e13c);
\node[anchor=base] (e13l1) at (885,2460) {20};
\node[anchor=base] (e13v) at (909,2503) {P113A/+};
\coordinate (e13p1) at (837,2459); \coordinate (e13p2) at (869,2432);
\draw[parr] (e13p1) -- (e13p2);
% legend e
\node[eci,fill=pblue] (elc1) at (1141.6,2290) {};
\node[esq,fill=pblue] (els1) at (1184,2290) {};
\node[eci] (elc2) at (1141.6,2357) {};
\node[esq] (els2) at (1184,2357) {};
\node[anchor=base west] (elt1) at (1217,2302.6) {T2D including};
\node[anchor=base west] (elt2) at (1217,2335.6) {age of onset};
\node[anchor=base west] (elt3) at (1217,2368) {Non diabetic};

%%%%%%%%%%%%%%%% panel f
\node[font=\fbl] (lf) at (1602.5,1461) {f};
\draw[fax] (1739.5,1516.4) -- (1739.5,1867) -- (2101.4,1867);
\foreach \v in {10,20,...,80} {
  \draw[fax] (1731,1898.1-4.49*\v) -- (1739.5,1898.1-4.49*\v);
  \node[anchor=base east] (fy\v) at (1722,1907.8-4.49*\v) {\v};
}
\foreach \xx in {1823.5,1925,2026.5} {
  \draw[fax] (\xx,1867) -- (\xx,1876);
}
\node[rotate=90] (fyl) at (1653,1690) {Age at onset};
\node[anchor=base] (fx1) at (1823.5,1905) {+/+};
\node[anchor=base] (fx2) at (1925,1905) {+/m};
\node[anchor=base] (fx3) at (2028.6,1905) {T2D relative};
\node[anchor=base] (fx4) at (2026.5,1936) {of +/m};
% box +/+
\draw[bx] (1823.5,1525.4) -- (1823.5,1651.2) (1823.5,1736.5) -- (1823.5,1853.2);
\draw[bx] (1800,1525.4) -- (1846,1525.4) (1800,1853.2) -- (1846,1853.2);
\draw[bx,fill=white] (1800,1651.2) rectangle (1847,1736.5);
\draw[bx] (1800,1691.6) -- (1847,1691.6);
% box +/m
\draw[bx] (1925,1687.1) -- (1925,1732) (1925,1785.9) -- (1925,1808.3);
\draw[bx] (1903,1687.1) -- (1947.5,1687.1) (1903,1808.3) -- (1947.5,1808.3);
\draw[bx,fill=pblue] (1902,1732) rectangle (1948.5,1785.9);
\draw[bx] (1902,1767.9) -- (1948.5,1767.9);
% box relative
\draw[bx] (2027,1709.5) -- (2027,1727.5) (2027,1763.4) -- (2027,1794.8);
\draw[bx] (2005,1709.5) -- (2049,1709.5) (2005,1794.8) -- (2049,1794.8);
\draw[bx,fill=pblue] (2004,1727.5) rectangle (2050,1763.4);
\draw[bx] (2004,1745.4) -- (2050,1745.4);
% significance
\draw[line width=2.5pt] (1823.5,1465.8) -- (2026.5,1465.8);
\draw[line width=2.5pt] (1823.5,1508) -- (1925,1508);
\draw[line width=2.5pt] (1925,1663.8) -- (2026.5,1663.8);
\node[anchor=base] (fs1) at (1925,1462.4) {0.0015};
\node[anchor=base] (fs2) at (1874,1503.7) {0.00033};
\node[anchor=base] (fs3) at (1975.7,1656.7) {NS};

%%%%%%%%%%%%%%%% panel g
\node[font=\fontsize{31}{36}\selectfont\serifbf\bfseries] (lg) at (1505,1968) {g};
\draw[gax] (1624.4,1994) rectangle (2108,2425.6);
\foreach \a in {0,10,...,80} {
  \draw[gax] (1642.7+5.25*\a,2425.6) -- (1642.7+5.25*\a,2434.6);
  \node[anchor=base] (gx\a) at (1642.7+5.25*\a,2462) {\a};
}
\foreach \p in {0,20,...,100} {
  \draw[gax] (1616.3,2409.4-4*\p) -- (1624.4,2409.4-4*\p);
  \node[anchor=base east] (gy\p) at (1609.4,2419.1-4*\p) {\p};
}
\node[rotate=90] (gyl) at (1549,2213) {Percentage of patients without diabetes};
\node[anchor=base] (gxl) at (1862.4,2497) {Age at diabetes diagnosis};
\begin{scope}[shift={(1642.7,2409.4)},x=5.25pt,y=4pt]
\draw[pred,line width=3.4pt] (0,100) -| (11,99.6) -| (12,99.1) -| (13,98.6) -| (14,98.0) -| (15,97.4) -| (16,96.7) -| (17,95.9) -| (18,95.1) -| (19,94.1) -| (20,93.2) -| (21,92.4) -| (22,91.6) -| (23,91.1) -| (24,90.6) -| (25,89.8) -| (26,89.1) -| (27,88.4) -| (28,87.7) -| (29,86.8) -| (30,85.3) -| (31,83.6) -| (32,81.9) -| (33,80.0) -| (34,78.0) -| (35,76.0) -| (36,74.1) -| (37,72.0) -| (38,69.7) -| (39,67.2) -| (40,64.6) -| (41,62.2) -| (42,59.8) -| (43,57.3) -| (44,54.6) -| (45,51.8) -| (46,48.7) -| (47,45.5) -| (48,42.4) -| (49,39.4) -| (50,36.2) -| (51,33.3) -| (52,31.5) -| (53,29.3) -| (54,27.1) -| (55,24.9) -| (56,22.5) -| (57,20.2) -| (58,18.0) -| (59,15.8) -| (60,14.5) -| (61,13.3) -| (62,12.1) -| (63,10.9) -| (64,9.8) -| (65,8.6) -| (66,7.7) -| (67,6.7) -| (68,5.8) -| (69,4.9) -| (70,4.2) -| (71,3.5) -| (72,2.8) -| (73,2.2) -| (74,1.8) -| (75,1.5) -| (76,1.1) -| (77,0.8) -| (78,0.6) -| (80,0.5) -| (82,0.3) -| (84,0.2) -- (85,0.2);
\draw[gblue,line width=3.4pt] (0,100) -| (20,84.6) -| (24,76.9) -| (26,69.2) -| (27,61.5) -| (29,46.2) -| (35,38.5) -| (36,23.1) -| (38,15.4) -| (44,7.7) -| (47,0);
\end{scope}
\draw[pred,line width=5pt] (1956,2020) -- (1976,2020);
\draw[gblue,line width=5pt] (1956,2052) -- (1976,2052);
\node[anchor=base west] (gl1) at (1983,2029.7) {T2D +/+};
\node[anchor=base west] (gl2) at (1983,2061.7) {T2D +/m};
\node[anchor=base west] (glr) at (1634.6,2415) {log-rank \textit{P} = 3 × 10\textsuperscript{\symbol{"2212}7}};
\end{tikzpicture}
\end{document}
